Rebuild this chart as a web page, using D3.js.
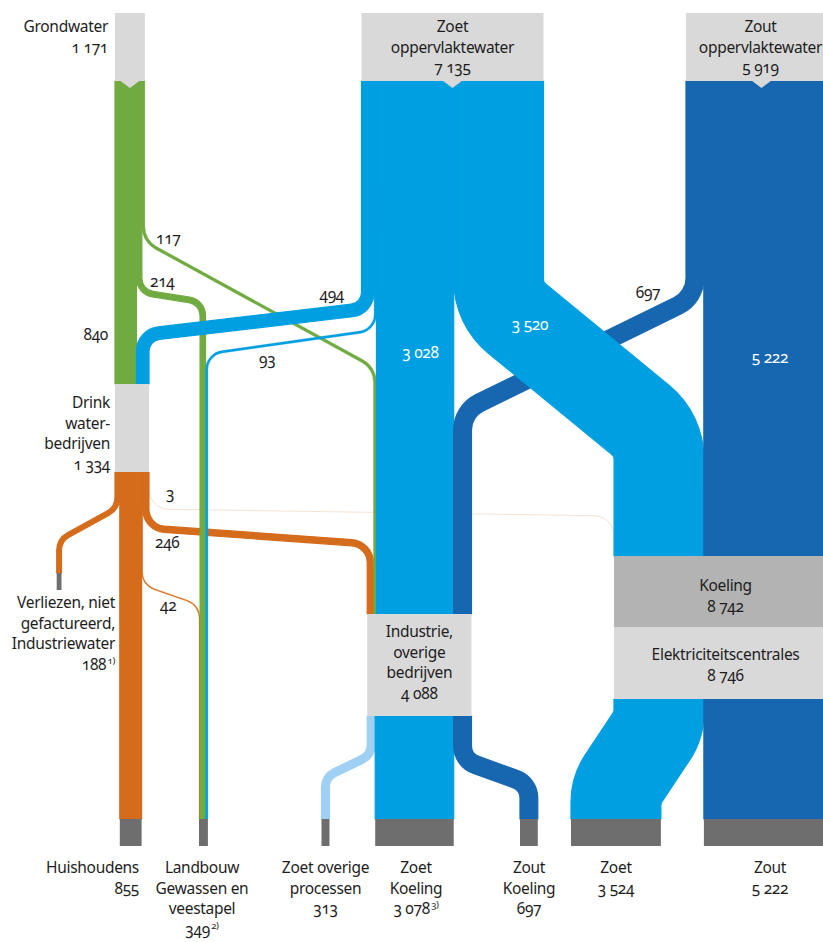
<!DOCTYPE html>
<html><head><meta charset="utf-8">
<script src="https://cdn.jsdelivr.net/npm/d3@7"></script>
<style>
html,body{margin:0;padding:0;background:#fff;}
svg{display:block;font-family:"Noto Sans",sans-serif;}
text{font-variant-numeric:oldstyle-nums;font-feature-settings:"onum" 1;letter-spacing:-0.3px;}
</style></head><body>
<svg id="chart" width="823" height="942"></svg>
<script>
// ---------------- data ----------------
const nodeIds    = ["GW","ZO","ZU","DW","IND","ELC","VER","HH","LB","ZOP","ZK","ZUK","ZOET","ZOUT"];
const nodeValues = [1171,7135,5919,1334,4088,8746,188,855,349,313,3078,697,3524,5222];
const nodeLabels = [
  ["Grondwater"],["Zoet","oppervlaktewater"],["Zout","oppervlaktewater"],
  ["Drink","water-","bedrijven"],["Industrie,","overige","bedrijven"],["Elektriciteitscentrales"],
  ["Verliezen, niet","gefactureerd,","Industriewater"],["Huishoudens"],["Landbouw","Gewassen en","veestapel"],
  ["Zoet overige","processen"],["Zoet","Koeling"],["Zout","Koeling"],["Zoet"],["Zout"]
];
const nodeNotes  = {VER:"1)", LB:"2)", ZK:"3)"};
const koelingLabel = "Koeling";
const koelingValue = 8742;

const flowFrom   = ["GW","GW","GW","ZO","ZO","ZO","ZO","ZU","ZU","DW","DW","DW","DW","DW","IND","IND","IND","ELC","ELC"];
const flowTo     = ["DW","LB","IND","DW","LB","IND","ELC","IND","ELC","VER","HH","LB","IND","ELC","ZOP","ZK","ZUK","ZOET","ZOUT"];
const flowValues = [840,214,117,494,93,3028,3520,697,5222,188,855,42,246,3,313,3078,697,3524,5222];
const flowLabelled = [true,true,true,true,true,true,true,true,true,false,false,true,true,true,false,false,false,false,false];

// ---------------- layout ----------------
const svg = d3.select("#chart");
const k = d3.scaleLinear().domain([0, 7135]).range([0, 182]);
const fmt = d3.formatLocale({decimal:",", thousands:"\u00a0", grouping:[3], currency:["€",""]}).format(",d");
const val = id => nodeValues[nodeIds.indexOf(id)];

const C = {green:"#70ab42", blue:"#009fe1", dark:"#1767b0", orange:"#d46c1c", pale:"#9fd0f4",
           box:"#d9d9d9", koel:"#b2b3b2", sink:"#6e6e6e", text:"#1e1e1e"};

const nodeX = {GW:115, ZO:361.5, ZU:686, DW:115, IND:367.2, ELC:614, VER:56.7, HH:119.8, LB:199,
               ZOP:321.5, ZK:375.2, ZUK:520, ZOET:571, ZOUT:703.9};
const topY = 13, srcBottom = 81, sinkTop = 819, sinkBottom = 846;
const outY = {GW:srcBottom, ZO:srcBottom, ZU:srcBottom, DW:472, IND:716, ELC:699};
const inY  = {DW:384, IND:614, ELC:556, VER:573};
const boxY = {DW:[384,472], IND:[614,716], KOEL:[556,627], ELC:[627,699]};

const inOrderExplicit = {DW:[0,3], LB:[11,1,4], IND:[12,2,5,7], ELC:[13,6,8]};
const outOrder = {}, inOrder = {...inOrderExplicit};
flowFrom.forEach((f,i)=>{ (outOrder[f] = outOrder[f] || []).push(i); });
flowTo.forEach((t,i)=>{ if(!inOrderExplicit[t]) (inOrder[t] = inOrder[t] || []).push(i); });

const xs = [], xt = [];
for (const [n, list] of Object.entries(outOrder)) { let x = nodeX[n]; list.forEach(i=>{ const w = k(flowValues[i]); xs[i] = x + w/2; x += w; }); }
for (const [n, list] of Object.entries(inOrder))  { let x = nodeX[n]; list.forEach(i=>{ const w = k(flowValues[i]); xt[i] = x + w/2; x += w; }); }

// bend levels [y, radius] for the two corners of each routed flow
const routes = [null, [[292,16],[302,16]], [[241,24],[368,24]], [[308.6,18],[335,18]], [[330,18],[354,18]],
  null, [[303.5,50],[435.2,50]], [[297.2,30],[411.1,30]], null, [[508,18],[540,18]], null,
  [[585,18],[605,18]], [[528,20],[544,20]], [[509,20],[516,20]], [[755,16],[777,16]], null,
  [[760,20],[784,20]], [[725,40],[790,40]], null];

function colorOf(i){
  const f = flowFrom[i], t = flowTo[i];
  if (f==="GW") return C.green;
  if (f==="ZO") return C.blue;
  if (f==="ZU") return C.dark;
  if (f==="DW") return C.orange;
  if (t==="ZOP") return C.pale;
  if (t==="ZK"||t==="ZOET") return C.blue;
  return C.dark;
}

function bandPath(pts, w, radii){
  const n = pts.length, h = w/2, dirs = [], norms = [];
  for (let i=0;i<n-1;i++){
    const dx = pts[i+1][0]-pts[i][0], dy = pts[i+1][1]-pts[i][1], L = Math.hypot(dx,dy);
    dirs.push([dx/L,dy/L]); norms.push([-dy/L,dx/L]);
  }
  function side(s){
    const e = [[pts[0][0]+s*h*norms[0][0], pts[0][1]+s*h*norms[0][1]]];
    for (let j=1;j<n-1;j++){
      const a = norms[j-1], b = norms[j], dot = a[0]*b[0]+a[1]*b[1], f = s*h/(1+dot);
      e.push([pts[j][0]+f*(a[0]+b[0]), pts[j][1]+f*(a[1]+b[1])]);
    }
    e.push([pts[n-1][0]+s*h*norms[n-2][0], pts[n-1][1]+s*h*norms[n-2][1]]);
    return e;
  }
  function rad(j, s){
    const d1 = dirs[j-1], d2 = dirs[j], cr = d1[0]*d2[1]-d1[1]*d2[0];
    const r = radii[j-1];
    return (s*cr > 0) ? Math.max(6, r - h) : r + h;
  }
  const A = side(1), B = side(-1), p = d3.path();
  p.moveTo(A[0][0], A[0][1]);
  for (let j=1;j<n-1;j++) p.arcTo(A[j][0],A[j][1],A[j+1][0],A[j+1][1], rad(j,1));
  p.lineTo(A[n-1][0],A[n-1][1]);
  p.lineTo(B[n-1][0],B[n-1][1]);
  for (let j=n-2;j>=1;j--) p.arcTo(B[j][0],B[j][1],B[j-1][0],B[j-1][1], rad(j,-1));
  p.lineTo(B[0][0],B[0][1]);
  p.closePath();
  return p.toString();
}
function linePath(pts, radii){
  const p = d3.path(); p.moveTo(pts[0][0],pts[0][1]);
  for (let j=1;j<pts.length-1;j++) p.arcTo(pts[j][0],pts[j][1],pts[j+1][0],pts[j+1][1], radii[j-1]);
  p.lineTo(pts[pts.length-1][0], pts[pts.length-1][1]);
  return p.toString();
}
function centerline(i){
  const y0 = outY[flowFrom[i]], y3 = inY[flowTo[i]] !== undefined ? inY[flowTo[i]] : sinkTop;
  const r = routes[i];
  if (!r) return {pts:[[xs[i],y0],[xt[i],y3]], radii:[]};
  return {pts:[[xs[i],y0],[xs[i],r[0][0]],[xt[i],r[1][0]],[xt[i],y3]], radii:[r[0][1], r[1][1]]};
}

// ---------------- flows ----------------
const drawOrder = [13,12,9,10,11,2,1,0,4,3,5,7,6,8,14,15,16,17,18];
const gFlows = svg.append("g");
drawOrder.forEach(i=>{
  const w = k(flowValues[i]), c = centerline(i);
  if (w < 1) {
    gFlows.append("path").attr("d", linePath(c.pts, c.radii)).attr("fill","none")
      .attr("stroke", colorOf(i)).attr("stroke-opacity",0.2).attr("stroke-width",1);
  } else {
    gFlows.append("path").attr("d", bandPath(c.pts, w, c.radii)).attr("fill", colorOf(i))
      .attr("stroke", colorOf(i)).attr("stroke-width", w > 4 ? 1.2 : 0.3).attr("stroke-linejoin","round");
  }
});

// ---------------- boxes ----------------
const gBox = svg.append("g");
["GW","ZO","ZU"].forEach(n=>{
  const w = k(val(n)), x = nodeX[n], cx = x + w/2;
  gBox.append("rect").attr("x",x).attr("y",topY).attr("width",w).attr("height",srcBottom-topY).attr("fill",C.box);
  gBox.append("path").attr("d",`M${cx-10},${srcBottom-0.5}L${cx+10},${srcBottom-0.5}L${cx},${srcBottom+7}Z`).attr("fill",C.box);
});
gBox.append("rect").attr("x",nodeX.DW).attr("y",boxY.DW[0]).attr("width",k(val("DW"))).attr("height",boxY.DW[1]-boxY.DW[0]).attr("fill",C.box);
gBox.append("rect").attr("x",nodeX.IND).attr("y",boxY.IND[0]).attr("width",k(val("IND"))).attr("height",boxY.IND[1]-boxY.IND[0]).attr("fill",C.box);
gBox.append("rect").attr("x",nodeX.ELC).attr("y",boxY.KOEL[0]).attr("width",k(koelingValue)).attr("height",boxY.KOEL[1]-boxY.KOEL[0]).attr("fill",C.koel);
gBox.append("rect").attr("x",nodeX.ELC).attr("y",boxY.ELC[0]).attr("width",k(val("ELC"))).attr("height",boxY.ELC[1]-boxY.ELC[0]).attr("fill",C.box);
["HH","LB","ZOP","ZK","ZUK","ZOET","ZOUT"].forEach(n=>{
  gBox.append("rect").attr("x",nodeX[n]).attr("y",sinkTop).attr("width",k(val(n))).attr("height",sinkBottom-sinkTop).attr("fill",C.sink);
});
gBox.append("rect").attr("x",nodeX.VER).attr("y",inY.VER).attr("width",k(val("VER"))).attr("height",17).attr("fill",C.sink);

// ---------------- text ----------------
const gText = svg.append("g").attr("font-size",15.5).attr("fill",C.text);
function block(x, y, lines, anchor, note, color){
  const t = gText.append("text").attr("text-anchor",anchor).attr("fill",color||C.text);
  lines.forEach((l,j)=>{
    t.append("tspan").attr("x",x).attr("y",y+j*20.5).text(l);
  });
  if (note){
    const last = t.select("tspan:last-child");
    last.append("tspan").attr("font-size",9.5).attr("dy",-6).text("\u2009"+note);
  }
  return t;
}
// label anchors: [x, first baseline, anchor]
const labelPos = {
  GW:[108,32,"end"], ZO:[nodeX.ZO+k(val("ZO"))/2,32,"middle"], ZU:[nodeX.ZU+k(val("ZU"))/2 - 1,32,"middle"],
  DW:[110,408,"end"], IND:[nodeX.IND+k(val("IND"))/2,637,"middle"], ELC:[nodeX.ELC+k(val("ELC"))/2,660,"middle"],
  VER:[115,608,"end"], HH:[139,873,"end"], LB:[202,873,"middle"], ZOP:[325.5,873,"middle"],
  ZK:[416,873,"middle"], ZUK:[529,873,"middle"], ZOET:[616,873,"middle"], ZOUT:[770,873,"middle"]
};
nodeIds.forEach((n,idx)=>{
  const [x,y,a] = labelPos[n];
  block(x, y, nodeLabels[idx].concat([fmt(nodeValues[idx])]), a, nodeNotes[n]);
});
block(nodeX.ELC+k(koelingValue)/2, 591, [koelingLabel, fmt(koelingValue)], "middle");

// flow value labels: [x, baseline, anchor, colour]
const flowLabelPos = {0:[108,340,"end"],1:[150,287,"start"],2:[156,244,"start"],3:[344,300,"end"],4:[259,365,"start"],
  5:[420.5,358,"middle","#fff"],6:[530,330,"middle","#fff"],7:[648,298,"middle"],8:[770,363,"middle","#fff"],
  11:[160,611,"start"],12:[155,548,"start"],13:[166,499,"start"]};
flowValues.forEach((v,i)=>{
  if (!flowLabelled[i]) return;
  const p = flowLabelPos[i];
  block(p[0], p[1], [fmt(v)], p[2], null, p[3]);
});
</script>
</body></html>
